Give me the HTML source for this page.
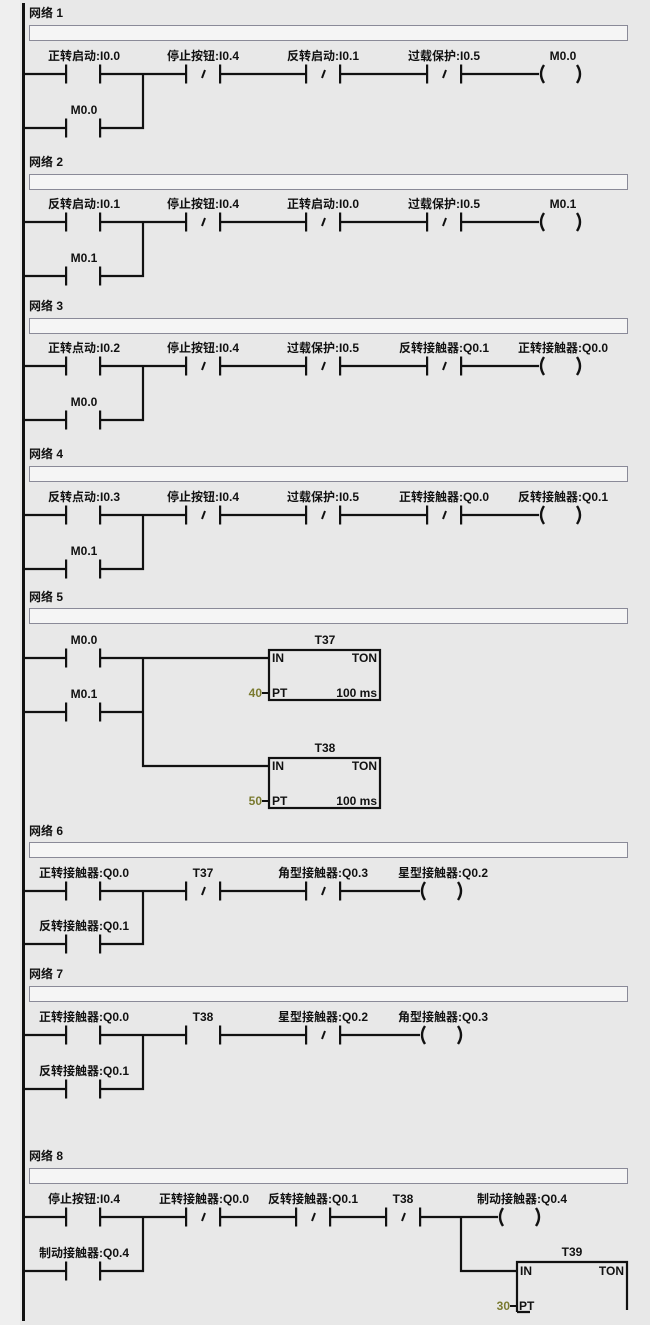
<!DOCTYPE html>
<html><head><meta charset="utf-8"><style>
html,body{margin:0;padding:0;background:#e8e8e8;}
svg{display:block;}
text{font-family:"Liberation Sans","WenQuanYi Zen Hei","Noto Sans CJK SC",sans-serif;font-weight:bold;font-size:12px;fill:#111;}
.c{text-anchor:middle;}
</style></head><body>
<svg width="650" height="1325" viewBox="0 0 650 1325" xmlns="http://www.w3.org/2000/svg">
<defs>
<g id="no"><rect x="0" y="-10" width="34" height="20" fill="#e8e8e8"/><rect x="-1" y="-9.5" width="2.2" height="19" fill="#111"/><rect x="33" y="-9.5" width="2.2" height="19" fill="#111"/></g>
<g id="nc"><use href="#no"/><path d="M19 -4 L16 4" stroke="#111" stroke-width="2"/></g>
<g id="coil"><path d="M6 -9 Q0 0 6 9" fill="none" stroke="#111" stroke-width="2.4"/><path d="M39 -9 Q45 0 39 9" fill="none" stroke="#111" stroke-width="2.4"/></g>
</defs>
<rect x="0" y="0" width="20" height="1325" fill="#efefef"/>
<rect x="22" y="3" width="3" height="1318" fill="#111"/>
<g stroke="#111" stroke-width="2.2" fill="none">
<path d="M24 74 H539 M24 128 H143 V74"/>
<path d="M24 222 H539 M24 276 H143 V222"/>
<path d="M24 366 H539 M24 420 H143 V366"/>
<path d="M24 515 H539 M24 569 H143 V515"/>
<path d="M24 658 H269 M24 712 H143 M143 658 V766 H269"/>
<path d="M24 891 H420 M24 944 H143 V891"/>
<path d="M24 1035 H420 M24 1089 H143 V1035"/>
<path d="M24 1217 H498 M24 1271 H143 V1217 M461 1217 V1271 H517"/>
<rect x="269" y="650" width="111" height="50"/>
<rect x="269" y="758" width="111" height="50"/>
<path d="M517 1312 V1262 H627 V1310 M517 1312 H530"/>
<path d="M262 693 H269 M262 801 H269 M510 1306 H517" stroke-width="2"/>
</g>
<g fill="#fff" stroke="#8a8a98" stroke-width="1">
<rect x="29.5" y="25.5" width="598" height="15"/>
<rect x="29.5" y="174.5" width="598" height="15"/>
<rect x="29.5" y="318.5" width="598" height="15"/>
<rect x="29.5" y="466.5" width="598" height="15"/>
<rect x="29.5" y="608.5" width="598" height="15"/>
<rect x="29.5" y="842.5" width="598" height="15"/>
<rect x="29.5" y="986.5" width="598" height="15"/>
<rect x="29.5" y="1168.5" width="598" height="15"/>
</g>
<g fill="#f5f5f5" stroke="none">
<rect x="30" y="26" width="597" height="14"/><rect x="30" y="175" width="597" height="14"/><rect x="30" y="319" width="597" height="14"/><rect x="30" y="467" width="597" height="14"/><rect x="30" y="609" width="597" height="14"/><rect x="30" y="843" width="597" height="14"/><rect x="30" y="987" width="597" height="14"/><rect x="30" y="1169" width="597" height="14"/>
</g>
<text x="29" y="17">网络 1</text>
<text x="29" y="166">网络 2</text>
<text x="29" y="310">网络 3</text>
<text x="29" y="458">网络 4</text>
<text x="29" y="601">网络 5</text>
<text x="29" y="835">网络 6</text>
<text x="29" y="978">网络 7</text>
<text x="29" y="1160">网络 8</text>
<use href="#no" x="66" y="74"/><use href="#nc" x="186" y="74"/><use href="#nc" x="306" y="74"/><use href="#nc" x="427" y="74"/><use href="#coil" x="538" y="74"/><use href="#no" x="66" y="128"/>
<text class="c" x="84" y="60">正转启动:I0.0</text><text class="c" x="203" y="60">停止按钮:I0.4</text><text class="c" x="323" y="60">反转启动:I0.1</text><text class="c" x="444" y="60">过载保护:I0.5</text><text class="c" x="563" y="60">M0.0</text><text class="c" x="84" y="114">M0.0</text>
<use href="#no" x="66" y="222"/><use href="#nc" x="186" y="222"/><use href="#nc" x="306" y="222"/><use href="#nc" x="427" y="222"/><use href="#coil" x="538" y="222"/><use href="#no" x="66" y="276"/>
<text class="c" x="84" y="208">反转启动:I0.1</text><text class="c" x="203" y="208">停止按钮:I0.4</text><text class="c" x="323" y="208">正转启动:I0.0</text><text class="c" x="444" y="208">过载保护:I0.5</text><text class="c" x="563" y="208">M0.1</text><text class="c" x="84" y="262">M0.1</text>
<use href="#no" x="66" y="366"/><use href="#nc" x="186" y="366"/><use href="#nc" x="306" y="366"/><use href="#nc" x="427" y="366"/><use href="#coil" x="538" y="366"/><use href="#no" x="66" y="420"/>
<text class="c" x="84" y="352">正转点动:I0.2</text><text class="c" x="203" y="352">停止按钮:I0.4</text><text class="c" x="323" y="352">过载保护:I0.5</text><text class="c" x="444" y="352">反转接触器:Q0.1</text><text class="c" x="563" y="352">正转接触器:Q0.0</text><text class="c" x="84" y="406">M0.0</text>
<use href="#no" x="66" y="515"/><use href="#nc" x="186" y="515"/><use href="#nc" x="306" y="515"/><use href="#nc" x="427" y="515"/><use href="#coil" x="538" y="515"/><use href="#no" x="66" y="569"/>
<text class="c" x="84" y="501">反转点动:I0.3</text><text class="c" x="203" y="501">停止按钮:I0.4</text><text class="c" x="323" y="501">过载保护:I0.5</text><text class="c" x="444" y="501">正转接触器:Q0.0</text><text class="c" x="563" y="501">反转接触器:Q0.1</text><text class="c" x="84" y="555">M0.1</text>
<use href="#no" x="66" y="658"/><use href="#no" x="66" y="712"/>
<text class="c" x="84" y="644">M0.0</text><text class="c" x="84" y="698">M0.1</text>
<text class="c" x="325" y="644">T37</text><text x="272" y="662">IN</text><text x="377" y="662" text-anchor="end">TON</text><text x="272" y="697">PT</text><text x="377" y="697" text-anchor="end">100 ms</text><text x="262" y="697" text-anchor="end" style="fill:#7a7a30">40</text>
<text class="c" x="325" y="752">T38</text><text x="272" y="770">IN</text><text x="377" y="770" text-anchor="end">TON</text><text x="272" y="805">PT</text><text x="377" y="805" text-anchor="end">100 ms</text><text x="262" y="805" text-anchor="end" style="fill:#7a7a30">50</text>
<use href="#no" x="66" y="891"/><use href="#nc" x="186" y="891"/><use href="#nc" x="306" y="891"/><use href="#coil" x="419" y="891"/><use href="#no" x="66" y="944"/>
<text class="c" x="84" y="877">正转接触器:Q0.0</text><text class="c" x="203" y="877">T37</text><text class="c" x="323" y="877">角型接触器:Q0.3</text><text class="c" x="443" y="877">星型接触器:Q0.2</text><text class="c" x="84" y="930">反转接触器:Q0.1</text>
<use href="#no" x="66" y="1035"/><use href="#no" x="186" y="1035"/><use href="#nc" x="306" y="1035"/><use href="#coil" x="419" y="1035"/><use href="#no" x="66" y="1089"/>
<text class="c" x="84" y="1021">正转接触器:Q0.0</text><text class="c" x="203" y="1021">T38</text><text class="c" x="323" y="1021">星型接触器:Q0.2</text><text class="c" x="443" y="1021">角型接触器:Q0.3</text><text class="c" x="84" y="1075">反转接触器:Q0.1</text>
<use href="#no" x="66" y="1217"/><use href="#nc" x="186" y="1217"/><use href="#nc" x="296" y="1217"/><use href="#nc" x="386" y="1217"/><use href="#coil" x="497" y="1217"/><use href="#no" x="66" y="1271"/>
<text class="c" x="84" y="1203">停止按钮:I0.4</text><text class="c" x="204" y="1203">正转接触器:Q0.0</text><text class="c" x="313" y="1203">反转接触器:Q0.1</text><text class="c" x="403" y="1203">T38</text><text class="c" x="522" y="1203">制动接触器:Q0.4</text><text class="c" x="84" y="1257">制动接触器:Q0.4</text>
<text class="c" x="572" y="1256">T39</text><text x="520" y="1275">IN</text><text x="624" y="1275" text-anchor="end">TON</text><text x="519" y="1310">PT</text><text x="510" y="1310" text-anchor="end" style="fill:#7a7a30">30</text>
</svg>
</body></html>
